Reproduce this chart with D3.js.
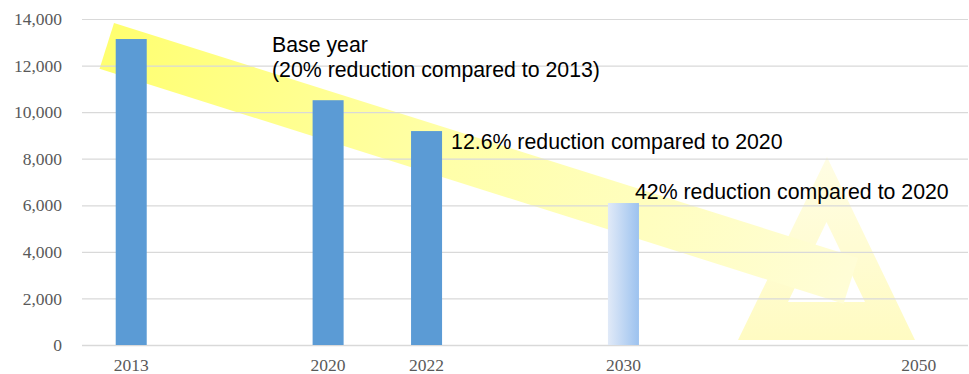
<!DOCTYPE html>
<html>
<head>
<meta charset="utf-8">
<script src="https://cdn.jsdelivr.net/npm/d3@7"></script>
<style>
  html, body { margin: 0; padding: 0; background: #fff; }
  svg { display: block; }
</style>
</head>
<body>
<svg id="chart" width="969" height="374"></svg>
<script>
// Category slots along the x axis (blank slots keep the time spacing)
const slots = ["2013", "s1", "2020", "2022", "s2", "2030", "s3", "s4", "2050"];
const slotLabels = { "2013": "2013", "2020": "2020", "2022": "2022", "2030": "2030", "2050": "2050" };

// Emissions by year
const years = ["2013", "2020", "2022", "2030"];
const emissions = [13140, 10512, 9187, 6097];
const projected = [false, false, false, true];

// Y axis ticks
const yTicks = [0, 2000, 4000, 6000, 8000, 10000, 12000, 14000];

const svg = d3.select("#chart");
const plotLeft = 82, plotRight = 968, plotTop = 19, plotBottom = 345;

const x = d3.scaleBand().domain(slots).range([plotLeft, plotRight]).paddingInner(0.685).paddingOuter(0.3425);
const y = d3.scaleLinear().domain([0, 14000]).range([plotBottom, plotTop]);

const defs = svg.append("defs");

// Gradient for the downward-trend band
const bandGrad = defs.append("linearGradient").attr("id", "bandGrad")
  .attr("x1", "0").attr("y1", "0").attr("x2", "1").attr("y2", "0");
bandGrad.append("stop").attr("offset", "0").attr("stop-color", "#ffff70");
bandGrad.append("stop").attr("offset", "0.45").attr("stop-color", "#ffffa8");
bandGrad.append("stop").attr("offset", "1").attr("stop-color", "#fffdd6");

// Gradient for the triangle marker
const triGrad = defs.append("linearGradient").attr("id", "triGrad")
  .attr("x1", "0").attr("y1", "0").attr("x2", "0").attr("y2", "1");
triGrad.append("stop").attr("offset", "0").attr("stop-color", "#fffde4");
triGrad.append("stop").attr("offset", "1").attr("stop-color", "#fffbc2");

// Gradient for the target-year bar
const targetGrad = defs.append("linearGradient").attr("id", "targetGrad")
  .attr("x1", "0").attr("y1", "0").attr("x2", "1").attr("y2", "0");
targetGrad.append("stop").attr("offset", "0").attr("stop-color", "#e1eaf8");
targetGrad.append("stop").attr("offset", "1").attr("stop-color", "#9cc2ef");

// Triangle symbol at 2050 (outlined, even-odd)
const triOuter = [[827, 157], [738, 340], [915, 340]];
const triInner = [[826.5, 222], [788, 302], [865, 302]];
const triPath = "M" + triOuter.map(p => p.join(",")).join("L") + "Z" +
                "M" + triInner.map(p => p.join(",")).join("L") + "Z";
svg.append("path").attr("d", triPath).attr("fill", "url(#triGrad)").attr("fill-rule", "evenodd");

// Trend band: rotated rectangle
const bx0 = 114, by0 = 23, bx1 = 858, by1 = 258;
const len = Math.hypot(bx1 - bx0, by1 - by0);
const ang = Math.atan2(by1 - by0, bx1 - bx0) * 180 / Math.PI;
svg.append("rect")
  .attr("x", 0).attr("y", 0).attr("width", len).attr("height", 48)
  .attr("fill", "url(#bandGrad)")
  .attr("transform", `translate(${bx0},${by0}) rotate(${ang})`);

// Gridlines
svg.append("g").selectAll("line").data(yTicks).join("line")
  .attr("x1", plotLeft).attr("x2", plotRight)
  .attr("y1", d => y(d) + 0.5).attr("y2", d => y(d) + 0.5)
  .attr("stroke", "#d9d9d9").attr("stroke-width", d => d === 0 ? 1.5 : 1.2);

// Y tick labels
svg.append("g").selectAll("text").data(yTicks).join("text")
  .attr("x", 62).attr("y", d => y(d))
  .attr("dy", "0.35em")
  .attr("text-anchor", "end")
  .attr("font-family", "'Liberation Serif', 'Times New Roman', serif")
  .attr("font-size", 17.5).attr("fill", "#595959")
  .text(d => d3.format(",")(d));

// X tick labels
svg.append("g").selectAll("text").data(slots.filter(s => slotLabels[s])).join("text")
  .attr("x", d => x(d) + x.bandwidth() / 2).attr("y", 371)
  .attr("text-anchor", "middle")
  .attr("font-family", "'Liberation Serif', 'Times New Roman', serif")
  .attr("font-size", 17.5).attr("fill", "#595959")
  .text(d => slotLabels[d]);

// Bars
const barData = years.map((yr, i) => ({ yr, v: emissions[i], proj: projected[i] }));
svg.append("g").selectAll("rect").data(barData).join("rect")
  .attr("x", d => x(d.yr)).attr("width", x.bandwidth())
  .attr("y", d => y(d.v)).attr("height", d => y(0) - y(d.v))
  .attr("fill", d => d.proj ? "url(#targetGrad)" : "#5b9bd5");

// Annotations
const ann = svg.append("g")
  .attr("font-family", "'Liberation Sans', Arial, sans-serif")
  .attr("font-size", 21.3).attr("fill", "#000");
ann.append("text").attr("x", 272).attr("y", 52).text("Base year");
ann.append("text").attr("x", 272).attr("y", 77).text("(20% reduction compared to 2013)");
ann.append("text").attr("x", x("2022") + x.bandwidth() + 9).attr("y", y(emissions[2]) + 18)
  .text("12.6% reduction compared to 2020");
ann.append("text").attr("x", x("2030") + x.bandwidth() - 4).attr("y", y(emissions[3]) - 4)
  .text("42% reduction compared to 2020");
</script>
</body>
</html>
